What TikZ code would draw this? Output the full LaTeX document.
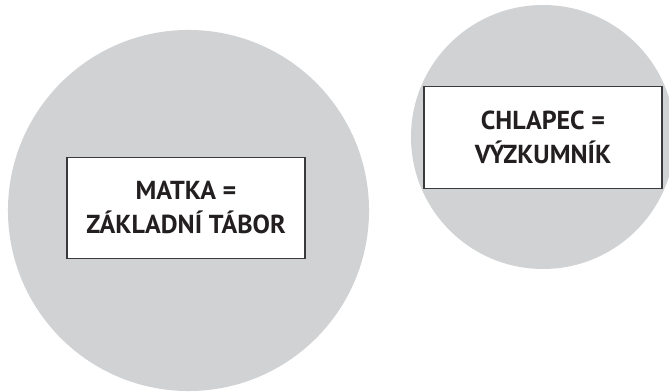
\documentclass[tikz,border=0pt]{standalone}
\usepackage{fontspec}
\setmainfont{PT Sans}
\definecolor{blobgray}{HTML}{D1D2D4}
\definecolor{boxline}{HTML}{3A3A3C}
\definecolor{txt}{HTML}{231F20}
\tikzset{
  blob/.style={circle, fill=blobgray, draw=none, inner sep=0pt},
  labelbox/.style={rectangle, draw=boxline, line width=0.9pt, fill=white,
    minimum width=178.5pt, minimum height=76pt, inner sep=0pt,
    align=center, text=txt, font=\fontsize{19.5}{25.5}\selectfont\bfseries}
}
\begin{document}
\begin{tikzpicture}[x=0.75pt,y=-0.75pt]
\useasboundingbox (0,0) rectangle (669,392);
\clip (0,0) rectangle (669,392);
\node[blob, minimum size=270.8pt] (mother) at (188.5,210.5) {};
\node[blob, minimum size=198pt] (boy) at (543,137) {};
\node[labelbox] (camp) at (186,208) {MATKA =\\ZÁKLADNÍ TÁBOR};
\node[labelbox] (explorer) at (543,137.5) {CHLAPEC =\\VÝZKUMNÍK};
\end{tikzpicture}
\end{document}
